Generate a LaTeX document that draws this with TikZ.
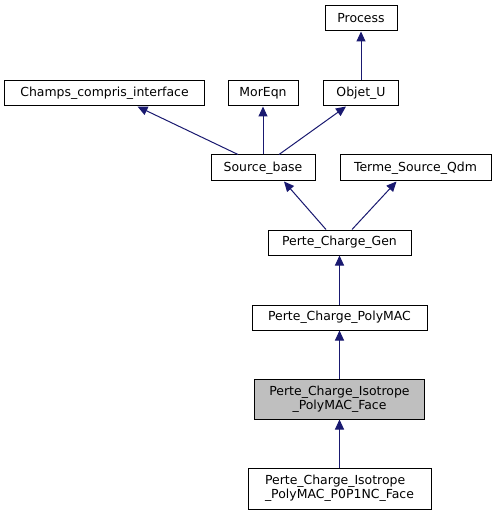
\documentclass[tikz,border=0pt]{standalone}
\usepackage{fontspec}
\setmainfont{DejaVu Sans}
\usetikzlibrary{arrows.meta}
\definecolor{edgeblue}{HTML}{191970}
\definecolor{focusgray}{HTML}{BFBFBF}
\begin{document}
\begin{tikzpicture}[x=1bp,y=-1bp,
  cls/.style={draw=black, line width=1bp, fill=white, inner sep=0pt, font=\fontsize{12.5}{14.5}\selectfont, text=black},
  arr/.style={draw=edgeblue, line width=1bp, -{Triangle[length=10bp,width=9bp]}}]
\useasboundingbox[fill=white] (0,0) rectangle (496,515);
\node[cls, minimum width=72bp, minimum height=25bp] (process) at (361,18.5) {Process};
\node[cls, minimum width=199bp, minimum height=25bp] (champs) at (104.5,93.5) {Champs\_compris\_interface};
\node[cls, minimum width=70bp, minimum height=25bp] (moreqn) at (263,93.5) {MorEqn};
\node[cls, minimum width=75bp, minimum height=25bp] (objet) at (361,93.5) {Objet\_U};
\node[cls, minimum width=104bp, minimum height=26bp] (source) at (263,168) {Source\_base};
\node[cls, minimum width=151bp, minimum height=26bp] (terme) at (415.5,168) {Terme\_Source\_Qdm};
\node[cls, minimum width=143bp, minimum height=25bp] (gen) at (339.5,242.5) {Perte\_Charge\_Gen};
\node[cls, minimum width=175bp, minimum height=25bp] (polymac) at (339.5,317.5) {Perte\_Charge\_PolyMAC};
\node[cls, fill=focusgray, minimum width=170bp, minimum height=40bp, align=center] (iso) at (339.5,399) {Perte\_Charge\_Isotrope\\\_PolyMAC\_Face};
\node[cls, minimum width=183bp, minimum height=41bp, align=left] (p0p1) at (339.5,488.5) {Perte\_Charge\_Isotrope\\\_PolyMAC\_P0P1NC\_Face};
\draw[arr] (objet) -- (process);
\draw[arr] ([xshift=-25bp]source.north) -- ([xshift=33bp]champs.south);
\draw[arr] (source.north) -- (moreqn.south);
\draw[arr] ([xshift=16bp]source.north) -- ([xshift=-15bp]objet.south);
\draw[arr] ([xshift=-13.5bp]gen.north) -- ([xshift=21bp]source.south);
\draw[arr] ([xshift=12.5bp]gen.north) -- ([xshift=-19bp]terme.south);
\draw[arr] (polymac) -- (gen);
\draw[arr] (iso) -- (polymac);
\draw[arr] (p0p1) -- (iso);
\end{tikzpicture}
\end{document}
